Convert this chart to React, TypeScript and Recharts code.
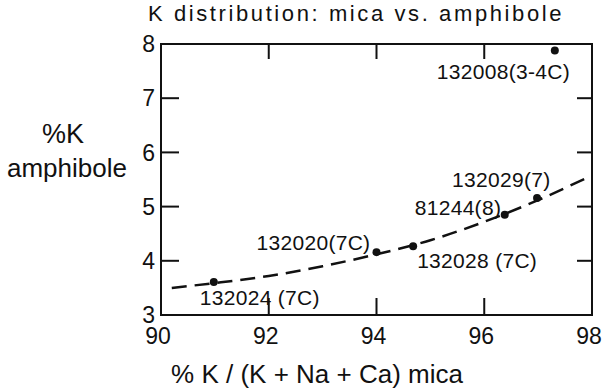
import React from 'react'
import { ComposedChart, Line, Scatter, XAxis, YAxis, Customized } from 'recharts'

// samples: mica %K/(K+Na+Ca) vs amphibole %K
const sampleNames = ['132024 (7C)', '132020(7C)', '132028 (7C)', '81244(8)', '132029(7)', '132008(3-4C)']
const micaK = [90.98, 94.0, 94.68, 96.38, 96.98, 97.31]
const amphiboleK = [3.61, 4.16, 4.27, 4.85, 5.16, 7.88]

// hand drawn trend line
const trendMica = [90.2, 91, 92, 93, 94, 95, 96, 97, 97.9]
const trendAmph = [3.5, 3.59, 3.72, 3.9, 4.12, 4.38, 4.72, 5.12, 5.53]

const xTicks = [90, 92, 94, 96, 98]
const yTicks = [3, 4, 5, 6, 7, 8]
const xDomain: [number, number] = [90, 98]
const yDomain: [number, number] = [3, 8]

const points = sampleNames.map((name, i) => ({ name, x: micaK[i], y: amphiboleK[i] }))
const trend = trendMica.map((x, i) => ({ x, y: trendAmph[i] }))

// label placement relative to each dot (px)
const labelOffsets: Record<string, [number, number]> = {
    '132024 (7C)': [-14, 23],
    '132020(7C)': [-120, -2],
    '132028 (7C)': [4, 22],
    '81244(8)': [-90, 0],
    '132029(7)': [-85, -11],
    '132008(3-4C)': [-118, 28]
}

const INK = '#111'
const FONT = '"Liberation Sans", Arial, sans-serif'

// plot box, follows from the margins / axis sizes below
const W = 602
const H = 392
const M = { top: 44, right: 10 }
const Y_AXIS_W = 161
const X_AXIS_H = 77
const plot = { left: Y_AXIS_W, top: M.top, right: W - M.right, bottom: H - X_AXIS_H }

const sx = (v: number) => plot.left + ((v - xDomain[0]) / (xDomain[1] - xDomain[0])) * (plot.right - plot.left)
const sy = (v: number) => plot.bottom - ((v - yDomain[0]) / (yDomain[1] - yDomain[0])) * (plot.bottom - plot.top)

const SampleDot = (props: any) => {
    const { cx, cy, payload } = props
    if (payload == null || payload.name == null) return <g />
    const [dx, dy] = labelOffsets[payload.name] || [6, 0]
    return (
        <g>
            <circle cx={cx} cy={cy} r={4} fill={INK} />
            <text x={cx + dx} y={cy + dy} fontSize={21} fill={INK} fontFamily={FONT} letterSpacing={0.3}>
                {payload.name}
            </text>
        </g>
    )
}

const Titles = () => (
    <g fill={INK} fontFamily={FONT}>
        <text x={356} y={21} textAnchor="middle" fontSize={22} letterSpacing={2.6}>
            K distribution: mica vs. amphibole
        </text>
        <text x={84} y={143} textAnchor="end" fontSize={27}>%K</text>
        <text x={67} y={177} textAnchor="middle" fontSize={26}>amphibole</text>
        <text x={317} y={383} textAnchor="middle" fontSize={26}>% K / (K + Na + Ca) mica</text>
    </g>
)

// boxed frame with inward ticks on all four sides, layered above the chart svg
const FrameOverlay = () => {
    const innerX = xTicks.slice(1, -1)
    const innerY = yTicks.slice(1, -1)
    return (
        <svg
            width={W}
            height={H}
            style={{ position: 'absolute', left: 0, top: 0, pointerEvents: 'none' }}
        >
            <g stroke={INK} strokeWidth={2} fill="none">
                <rect x={plot.left} y={plot.top} width={plot.right - plot.left} height={plot.bottom - plot.top} />
                {innerX.map((v) => (
                    <g key={'x' + v}>
                        <line x1={sx(v)} y1={plot.bottom} x2={sx(v)} y2={plot.bottom - 17} />
                        <line x1={sx(v)} y1={plot.top} x2={sx(v)} y2={plot.top + 15} />
                    </g>
                ))}
                {innerY.map((v) => (
                    <g key={'y' + v}>
                        <line x1={plot.left} y1={sy(v)} x2={plot.left + 18} y2={sy(v)} />
                        <line x1={plot.right} y1={sy(v)} x2={plot.right - 15} y2={sy(v)} />
                    </g>
                ))}
            </g>
        </svg>
    )
}

export default function App() {
    const axisLine = { stroke: INK, strokeWidth: 2 }
    const tickText = { fontSize: 23, fill: INK, fontFamily: FONT }
    return (
        <div style={{ position: 'absolute', left: 0, top: 0, width: W, height: H }}>
            <ComposedChart width={W} height={H} margin={{ top: M.top, right: M.right, bottom: 0, left: 0 }}>
                <XAxis
                    dataKey="x"
                    type="number"
                    domain={xDomain}
                    ticks={xTicks}
                    interval={0}
                    height={X_AXIS_H}
                    stroke={INK}
                    axisLine={axisLine}
                    tickLine={false}
                    tickSize={0}
                    tickMargin={13}
                    tick={{ ...tickText, dx: -3 }}
                    allowDataOverflow
                />
                <YAxis
                    dataKey="y"
                    type="number"
                    domain={yDomain}
                    ticks={yTicks}
                    interval={0}
                    width={Y_AXIS_W}
                    stroke={INK}
                    axisLine={axisLine}
                    tickLine={false}
                    tickSize={0}
                    tickMargin={6}
                    tick={tickText}
                    allowDataOverflow
                />
                <Line
                    data={trend}
                    dataKey="y"
                    type="monotone"
                    stroke={INK}
                    strokeWidth={2.5}
                    strokeDasharray="15 8"
                    dot={false}
                    activeDot={false}
                    isAnimationActive={false}
                />
                <Scatter
                    data={points}
                    dataKey="y"
                    fill={INK}
                    shape={<SampleDot />}
                    isAnimationActive={false}
                />
                <Customized component={<Titles />} />
            </ComposedChart>
            <FrameOverlay />
        </div>
    )
}
